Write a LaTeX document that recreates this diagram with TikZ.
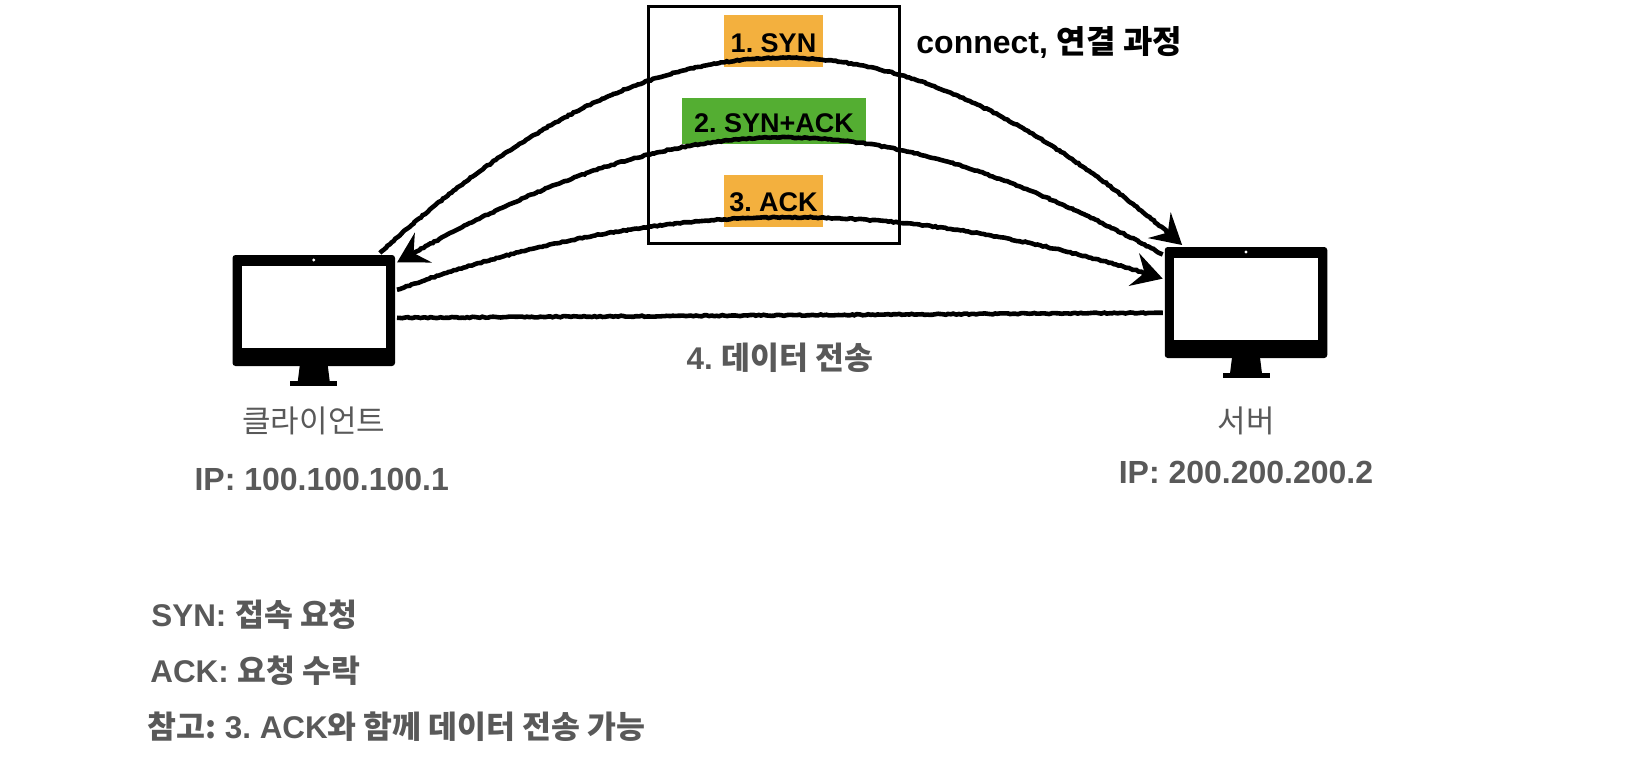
\documentclass[tikz,border=0pt]{standalone}
\usepackage{fontspec}
\setmainfont{Liberation Sans}
\newfontfamily\kr{Noto Sans CJK KR}
\usetikzlibrary{arrows.meta,positioning,decorations.pathmorphing}
\definecolor{synorange}{HTML}{F3B03E}
\definecolor{ackgreen}{HTML}{54AE32}
\definecolor{txtgray}{HTML}{595959}
\frenchspacing
\tikzset{
  frame/.style  = {fill=black, rounded corners=1.5pt, inner sep=0pt, outer sep=1pt,
                   minimum width=81.25pt, minimum height=55.5pt},
  screen/.style = {fill=white, inner sep=0pt, minimum width=72pt, minimum height=41pt},
  cam/.style    = {circle, fill=white, inner sep=0pt, minimum size=1.6pt},
  step1/.style  = {fill=synorange, inner sep=0pt, minimum width=49.5pt, minimum height=26pt,
                   text depth=0pt, font=\fontsize{13.5}{15}\selectfont\bfseries},
  step2/.style  = {fill=ackgreen, inner sep=0pt, minimum width=92pt, minimum height=23pt,
                   text depth=0pt, font=\fontsize{13.5}{15}\selectfont\bfseries},
  hbox/.style   = {draw, line width=1.5pt, inner sep=0pt, minimum width=125.5pt,
                   minimum height=118.5pt},
  rough/.style  = {line width=2.3pt, decorate,
                   decoration={random steps, segment length=1.3pt, amplitude=.3pt,
                               post=lineto, post length=7pt}},
  ar/.style     = {rough, -{Stealth[length=15pt, width=17pt, inset=5.5pt]}},
  lbl/.style    = {font=\fontsize{16}{18}\selectfont\bfseries, text=txtgray, inner sep=0pt},
  note/.style   = {font=\fontsize{15.7}{18}\selectfont\bfseries, text=txtgray, inner sep=0pt},
  pcname/.style = {font=\fontsize{15.5}{18}\selectfont, text=txtgray, inner sep=0pt}
}
% monitor icon: frame node, screen, camera dot and stand
\newcommand{\monitor}[2]{
  \begin{scope}[shift={(#2)}]
    \node[frame] (#1) at (0,0) {};
    \node[screen] (#1-screen) at (0,-4) {};
    \node[cam] (#1-cam) at (0,-50.5) {};
    \fill (-14,55) -- (14,55) -- (16,71) -- (-16,71) -- cycle;
    \fill (-23.5,70.5) rectangle (23.5,75.5);
  \end{scope}
}

\begin{document}
\begin{tikzpicture}[x=.5pt, y=-.5pt]
  \useasboundingbox (0,0) rectangle (1644,768);

  \monitor{client}{313.75,310.5}
  \monitor{server}{1246,302.5}

  % handshake box
  \node[hbox] (hs) at (773.5,124.5) {};
  \node[step1, text height=11.5pt] (syn) at (773.5,41) {1. SYN};
  \node[step2, text height=11pt] (synack) at (774,121) {2. SYN+ACK};
  \node[step1, text height=10pt] (ack) at (773.5,201) {3. ACK};
  \node[font=\fontsize{16}{18}\selectfont\bfseries, anchor=west, inner sep=0pt] (connect)
       at (916,42) {connect, {\kr 연결 과정}};

  % arcs
  \draw[ar] (client.41.5) .. controls (664,-6) and (896,-6) .. (server.138.5);
  \draw[ar] (server.150.8) .. controls (873,97) and (687,97) .. (client.30.7);
  \draw[ar] (client.14.5) .. controls (660,195) and (900,195) .. (server.164.9);
  \draw[rough] (client.-5.8) -- (server.187.2);
  \node[note] (data) at (780,358) {4. {\kr 데이터 전송}};

  % names under the monitors
  \node[pcname, below=19pt of client.south] (cname) {\kr 클라이언트};
  \node[lbl, below=16.5pt of cname, xshift=4pt] (cip) {IP: 100.100.100.1};
  \node[pcname, below=23pt of server.south] (sname) {\kr 서버};
  \node[lbl, below=13pt of sname] (sip) {IP: 200.200.200.2};

  % notes
  \node[note, anchor=west] (n1) at (151,615) {SYN: {\kr 접속 요청}};
  \node[note, anchor=west] (n2) at (150,671) {ACK: {\kr 요청 수락}};
  \node[note, anchor=west] (n3) at (147,727) {{\kr 참고:} 3. ACK{\kr 와 함께 데이터 전송 가능}};
\end{tikzpicture}
\end{document}
